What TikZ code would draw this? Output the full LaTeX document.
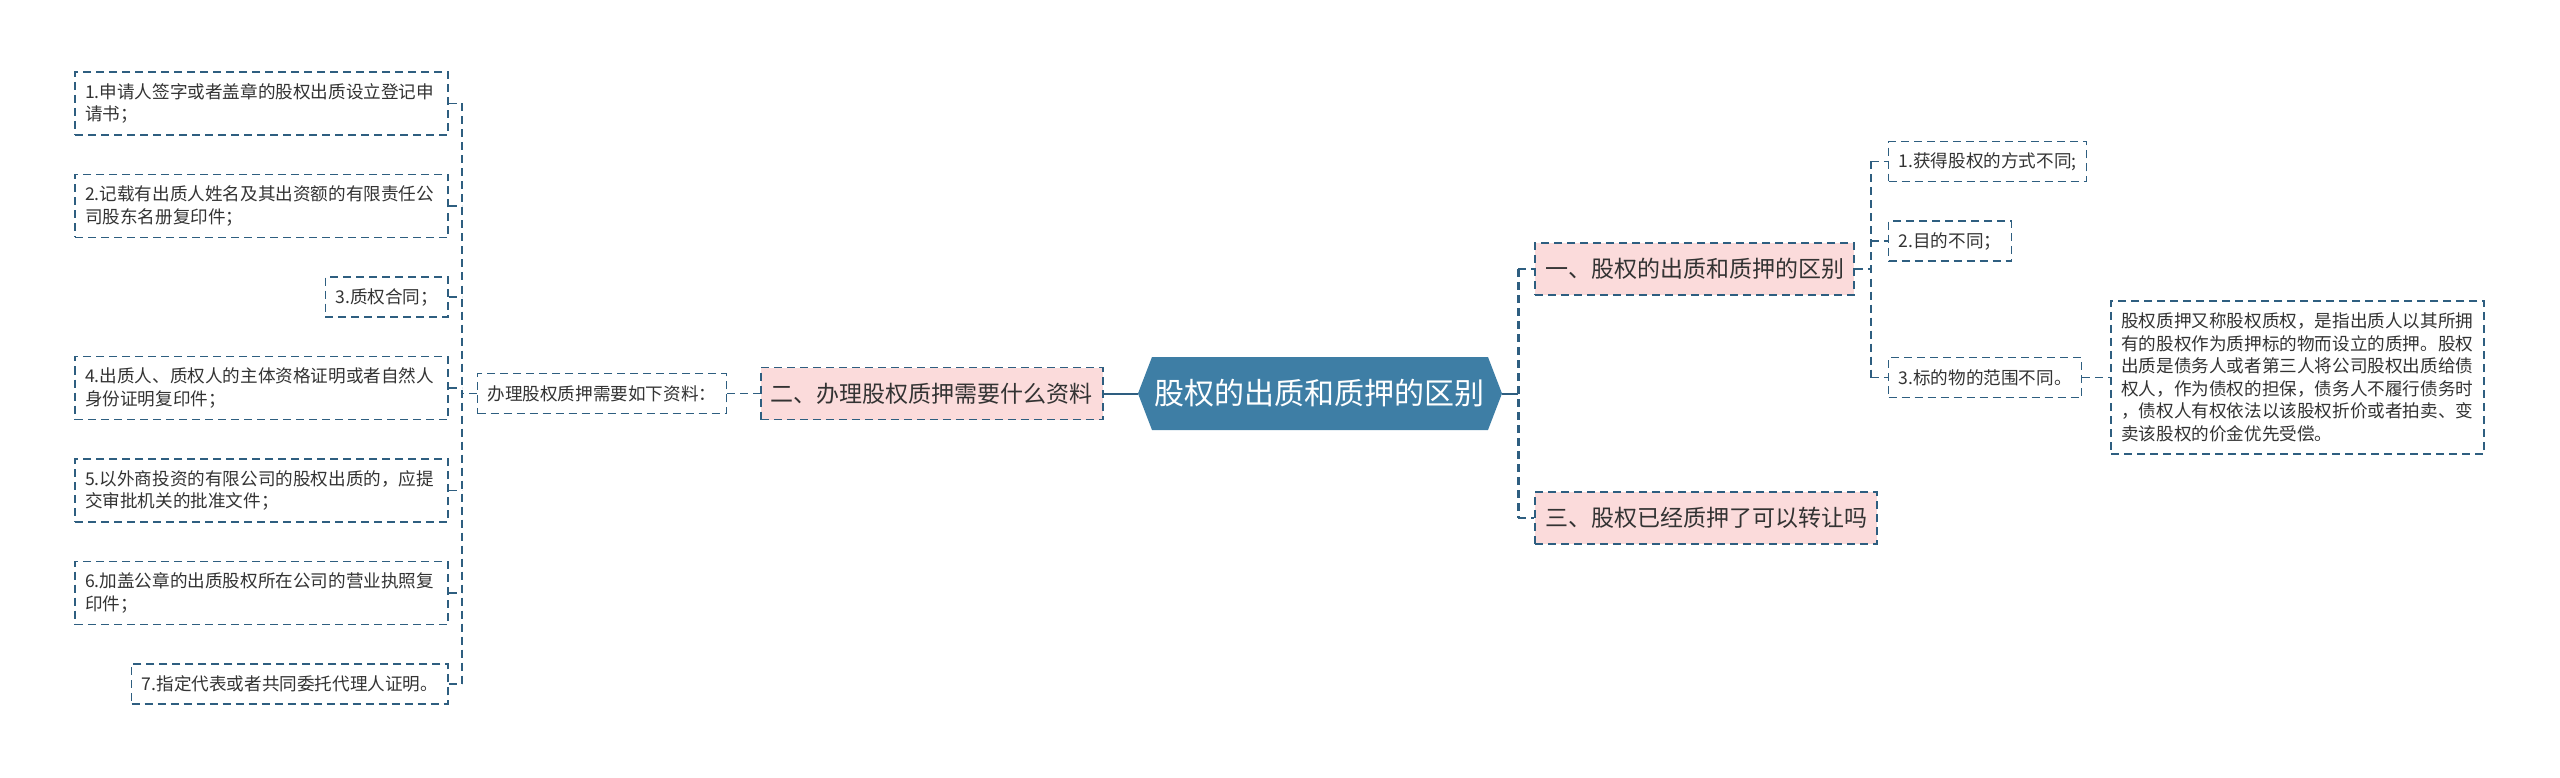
\documentclass[tikz,border=0pt]{standalone}
\usepackage{fontspec}
\usepackage{xcolor}
\usepackage{tikz}
\newfontfamily\cjk{Noto Sans CJK SC}
\definecolor{rootblue}{RGB}{62,126,165}
\definecolor{linkblue}{RGB}{46,94,128}
\definecolor{branchpink}{RGB}{251,219,219}
\definecolor{textgray}{RGB}{51,51,51}
\usetikzlibrary{positioning,shapes.symbols}

\begin{document}
\begin{tikzpicture}[
      node distance=19pt and 8pt,
      root/.style={signal, signal to=west and east, signal pointer angle=138,
                   fill=rootblue, text=white,
                   minimum width=182pt, minimum height=36.5pt, inner sep=0pt,
                   font=\cjk\fontsize{15pt}{18pt}\selectfont},
      branch/.style={draw=linkblue, line width=0.75pt, dash pattern=on 4pt off 2.5pt,
                     fill=branchpink, text=textgray, minimum height=26pt,
                     inner xsep=5pt, inner ysep=0pt,
                     font=\cjk\fontsize{11.5pt}{14pt}\selectfont},
      leaf/.style={draw=linkblue, line width=0.75pt, dash pattern=on 4pt off 2.5pt,
                   text=textgray, align=left, minimum height=20pt,
                   inner xsep=5pt, inner ysep=0pt,
                   font=\cjk\fontsize{8.8pt}{11.25pt}\selectfont},
      wide/.style={text width=176.5pt, minimum height=31.5pt},
      link/.style={draw=linkblue, line width=0.75pt, dash pattern=on 4pt off 2.5pt},
      buslink/.style={link, line width=1.2pt},
      mainlink/.style={draw=linkblue, line width=1pt}
  ]
  \useasboundingbox (-660pt,-191.75pt) rectangle (620pt,196.75pt);

  %% ---- Centre
  \node[root] (root) {股权的出质和质押的区别};

  %% ---- Left branch: 二 -> intro -> list of documents
  \node[branch, left=17pt of root]     (mat)      {二、办理股权质押需要什么资料};
  \node[leaf,   left=16.5pt of mat]    (matintro) {办理股权质押需要如下资料：};
  \coordinate[left=7.5pt of matintro]  (lbus);

  %% documents stacked from doc4 (next to the bus), right edges aligned
  \node[leaf, wide, left=6.5pt of lbus, yshift=2.75pt] (doc4) {4.出质人、质权人的主体资格证明或者自然人\\身份证明复印件；};
  \node[leaf,       above left=19pt and 0pt of doc4.north east] (doc3) {3.质权合同；};
  \node[leaf, wide, above left=19pt and 0pt of doc3.north east] (doc2) {2.记载有出质人姓名及其出资额的有限责任公\\司股东名册复印件；};
  \node[leaf, wide, above left=19pt and 0pt of doc2.north east] (doc1) {1.申请人签字或者盖章的股权出质设立登记申\\请书；};
  \node[leaf, wide, below left=19pt and 0pt of doc4.south east] (doc5) {5.以外商投资的有限公司的股权出质的，应提\\交审批机关的批准文件；};
  \node[leaf, wide, below left=19pt and 0pt of doc5.south east] (doc6) {6.加盖公章的出质股权所在公司的营业执照复\\印件；};
  \node[leaf,       below left=19pt and 0pt of doc6.south east] (doc7) {7.指定代表或者共同委托代理人证明。};

  %% ---- Right branches: 一 and 三
  \coordinate[right=8pt of root] (rbus);
  \node[branch, right=8pt of rbus, yshift=62.25pt]  (diff)  {一、股权的出质和质押的区别};
  \node[branch, right=8pt of rbus, yshift=-62.25pt] (trans) {三、股权已经质押了可以转让吗};

  %% three differences under 一
  \coordinate[right=8pt of diff] (dbus);
  \node[leaf, right=8.5pt of dbus, yshift=14pt]               (aim) {2.目的不同；};
  \node[leaf, above right=19pt and 0pt of aim.north west]     (way) {1.获得股权的方式不同;};
  \node[leaf, below right=47.5pt and 0pt of aim.south west]   (obj) {3.标的物的范围不同。};
  \node[leaf, wide, minimum height=76.5pt, right=14pt of obj] (objnote)
       {股权质押又称股权质权，是指出质人以其所拥\\有的股权作为质押标的物而设立的质押。股权\\出质是债务人或者第三人将公司股权出质给债\\权人，作为债权的担保，债务人不履行债务时\\，债权人有权依法以该股权折价或者拍卖、变\\卖该股权的价金优先受偿。};

  %% ---- Connectors, left side
  \draw[mainlink] (mat.east) -- (root.west);
  \draw[link] (matintro.east) -- (mat.west);
  \draw[link] (matintro.west) -- (lbus);
  \draw[link] (doc1.east -| lbus) -- (doc7.east -| lbus); %% vertical bus
  \draw[link] (doc1.east) -- (doc1.east -| lbus);
  \draw[link] (doc2.east) -- (doc2.east -| lbus);
  \draw[link] (doc3.east) -- (doc3.east -| lbus);
  \draw[link] (doc4.east) -- (doc4.east -| lbus);
  \draw[link] (doc5.east) -- (doc5.east -| lbus);
  \draw[link] (doc6.east) -- (doc6.east -| lbus);
  \draw[link] (doc7.east) -- (doc7.east -| lbus);

  %% ---- Connectors, right side
  \draw[mainlink] (root.east) -- (rbus);
  \draw[buslink] (diff.west -| rbus) -- (trans.west -| rbus); %% vertical bus
  \draw[buslink] (diff.west -| rbus) -- (diff.west);
  \draw[buslink] (trans.west -| rbus) -- (trans.west);
  \draw[link] (diff.east) -- (dbus);
  \draw[link] (way.west -| dbus) -- (obj.west -| dbus);
  \draw[link] (way.west -| dbus) -- (way.west);
  \draw[link] (aim.west -| dbus) -- (aim.west);
  \draw[link] (obj.west -| dbus) -- (obj.west);
  \draw[link] (obj.east) -- (objnote.west);
  \end{tikzpicture}
\end{document}
